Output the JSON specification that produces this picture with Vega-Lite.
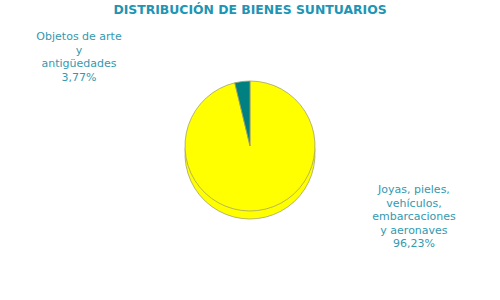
{
  "$schema": "https://vega.github.io/schema/vega-lite/v6.json",
  "width": 500,
  "height": 300,
  "autosize": {"type": "fit", "contains": "padding"},
  "padding": {"top": 3, "left": 0, "right": 0, "bottom": 0},
  "background": "white",
  "title": {
    "text": "DISTRIBUCIÓN DE BIENES SUNTUARIOS",
    "font": "DejaVu Sans",
    "fontSize": 12.4,
    "fontWeight": "bold",
    "color": "#2094b4",
    "anchor": "middle",
    "offset": 4
  },
  "data": {
    "values": [
      {"category": "Joyas, pieles,\nvehículos,\nembarcaciones\ny aeronaves", "pct": 96.23},
      {"category": "Objetos de arte\ny\nantigüedades", "pct": 3.77}
    ]
  },
  "transform": [
    {"calculate": "datum.category + '\\n' + replace(format(datum.pct, '.2f'), '.', ',') + '%'", "as": "label"}
  ],
  "layer": [
    {
      "mark": {"type": "arc", "outerRadius": 65, "yOffset": -6, "fill": "#ffff00", "stroke": "#a3a36a", "strokeWidth": 0.8},
      "encoding": {
        "theta": {"field": "pct", "type": "quantitative", "stack": true},
        "order": {"field": "pct", "sort": "descending"}
      }
    },
    {
      "mark": {"type": "arc", "outerRadius": 65, "yOffset": -14, "stroke": "#a3a36a", "strokeWidth": 0.8},
      "encoding": {
        "theta": {"field": "pct", "type": "quantitative", "stack": true},
        "order": {"field": "pct", "sort": "descending"},
        "color": {
          "field": "category",
          "type": "nominal",
          "legend": null,
          "scale": {"domain": ["Joyas, pieles,\nvehículos,\nembarcaciones\ny aeronaves", "Objetos de arte\ny\nantigüedades"], "range": ["#ffff00", "#008080"]}
        }
      }
    },
    {
      "mark": {"type": "text", "font": "DejaVu Sans", "fontSize": 11, "lineBreak": "\n", "lineHeight": 13.5, "color": "#3399b0", "align": "center", "baseline": "middle"},
      "encoding": {
        "theta": {"field": "pct", "type": "quantitative", "stack": true, "scale": {"range": [-1.6973, 5.4711]}},
        "order": {"field": "pct", "sort": "descending"},
        "radius": {"field": "pct", "type": "quantitative", "scale": {"type": "linear", "domain": [0, 100], "range": [212.4, 164.9]}},
        "text": {"field": "label"}
      }
    }
  ],
  "resolve": {"scale": {"theta": "independent", "radius": "independent"}},
  "config": {"view": {"stroke": null}}
}
